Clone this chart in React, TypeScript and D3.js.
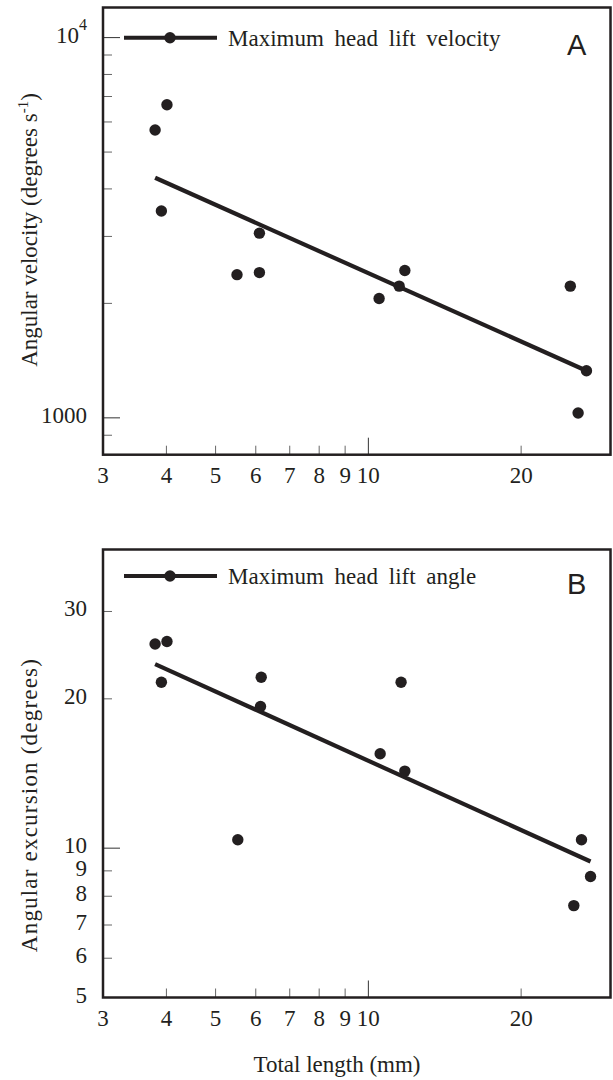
import React from "react";
import * as d3 from "d3";

// Panel A: maximum head lift velocity vs total length
const lengthA = [3.8, 4.01, 3.91, 5.51, 6.1, 6.1, 10.5, 11.5, 11.8, 25.0, 25.9, 26.9];
const velocityA = [5715, 6660, 3500, 2380, 3060, 2410, 2060, 2220, 2440, 2220, 1030, 1330];
const fitLengthA = [3.8, 26.9];
const fitVelocityA = [4280, 1330];

// Panel B: maximum head lift angle vs total length
const lengthB = [3.8, 4.01, 3.91, 5.53, 6.15, 6.13, 10.55, 11.6, 11.8, 25.4, 26.3, 27.4];
const angleB = [25.8, 26.1, 21.6, 10.4, 22.1, 19.3, 15.5, 21.6, 14.3, 7.66, 10.4, 8.77];
const fitLengthB = [3.8, 27.4];
const fitAngleB = [23.5, 9.4];

// ticks
const xTicks = [4, 5, 6, 7, 8, 9, 10, 20];
const xMajor = [10];
const xLabels = [3, 4, 5, 6, 7, 8, 9, 10, 20];
const yTicksA = [900, 1000, 2000, 3000, 4000, 5000, 6000, 7000, 8000, 9000, 10000];
const yMajorA = [1000, 10000];
const yTicksB = [6, 7, 8, 9, 10, 20, 30];
const yMajorB = [10];
const yLabelsB = [5, 6, 7, 8, 9, 10, 20, 30];

const ink = "#231f20";
const serif = "Liberation Serif, DejaVu Serif, Times, serif";
const sans = "Liberation Sans, Arial, sans-serif";
const fs = 23;

type PanelProps = {
	top: number;
	bottom: number;
	yDomain: [number, number];
	xs: number[];
	ys: number[];
	fitX: number[];
	fitY: number[];
	yTicks: number[];
	yMajor: number[];
	yLabels: React.ReactNode[];
	yLabelVals: number[];
	legend: string;
	letter: string;
	legendY: number;
	letterY: number;
};

const left = 103;
const right = 610.5;

function Panel(p: PanelProps) {
	const x = d3.scaleLog().domain([3, 30]).range([left, right]);
	const y = d3.scaleLog().domain(p.yDomain).range([p.bottom, p.top]);
	const line = d3
		.line<number>()
		.x((d, i) => x(p.fitX[i]))
		.y(d => y(d));

	return (
		<g>
			{/* y ticks */}
			{p.yTicks.map(t => (
				<line
					key={"yt" + t}
					x1={left}
					x2={left + (p.yMajor.includes(t) ? 17 : 9)}
					y1={y(t)}
					y2={y(t)}
					stroke={p.yMajor.includes(t) ? "#333" : "#666"}
					strokeWidth={1}
				/>
			))}
			{p.yLabelVals.map((v, i) => (
				<text
					key={"yl" + v}
					x={87}
					y={y(v) + 5}
					textAnchor="end"
					style={{ fontFamily: serif }}
					fontSize={fs}
					fill={ink}
				>
					{p.yLabels[i]}
				</text>
			))}
			{/* x ticks */}
			{xTicks.map(t => (
				<line
					key={"xt" + t}
					x1={x(t)}
					x2={x(t)}
					y1={p.bottom}
					y2={p.bottom - (xMajor.includes(t) ? 17 : 9)}
					stroke={xMajor.includes(t) ? "#333" : "#666"}
					strokeWidth={1}
				/>
			))}
			{xLabels.map(t => (
				<text
					key={"xl" + t}
					x={x(t)}
					y={p.bottom + 28}
					textAnchor="middle"
					style={{ fontFamily: serif }}
					fontSize={fs}
					fill={ink}
				>
					{t}
				</text>
			))}
			{/* fit line */}
			<path
				d={line(p.fitY) || ""}
				fill="none"
				stroke={ink}
				strokeWidth={4.2}
			/>
			{/* points */}
			{p.xs.map((v, i) => (
				<circle key={"pt" + i} cx={x(v)} cy={y(p.ys[i])} r={5.7} fill={ink} />
			))}
			{/* legend */}
			<line x1={124} x2={217} y1={p.legendY} y2={p.legendY} stroke={ink} strokeWidth={4} />
			<circle cx={170} cy={p.legendY} r={5.7} fill={ink} />
			<text
				x={228}
				y={p.legendY + 8}
				style={{ fontFamily: serif }}
				fontSize={fs}
				wordSpacing={5}
				fill={ink}
			>
				{p.legend}
			</text>
			<text x={567} y={p.letterY} style={{ fontFamily: sans }} fontSize={29} fill={ink}>
				{p.letter}
			</text>
			{/* frame */}
			<rect
				x={left}
				y={p.top}
				width={right - left}
				height={p.bottom - p.top}
				fill="none"
				stroke={ink}
				strokeWidth={2.5}
			/>
		</g>
	);
}

export default function App() {
	return (
		<svg
			width={613}
			height={1080}
			viewBox="0 0 613 1080"
			style={{ position: "absolute", left: 0, top: 0, background: "#fff" }}
		>
			<Panel
				top={7.5}
				bottom={454.7}
				yDomain={[800, 12000]}
				xs={lengthA}
				ys={velocityA}
				fitX={fitLengthA}
				fitY={fitVelocityA}
				yTicks={yTicksA}
				yMajor={yMajorA}
				yLabelVals={[1000, 10000]}
				yLabels={[
					"1000",
					<>
						10
						<tspan fontSize={16} dy={-13}>
							4
						</tspan>
					</>
				]}
				legend="Maximum head lift velocity"
				letter="A"
				legendY={37.7}
				letterY={55}
			/>
			<Panel
				top={549.5}
				bottom={997.5}
				yDomain={[5, 40]}
				xs={lengthB}
				ys={angleB}
				fitX={fitLengthB}
				fitY={fitAngleB}
				yTicks={yTicksB}
				yMajor={yMajorB}
				yLabelVals={yLabelsB}
				yLabels={yLabelsB.map(String)}
				legend="Maximum head lift angle"
				letter="B"
				legendY={576}
				letterY={594}
			/>
			{/* axis titles */}
			<text
				transform="translate(37,230) rotate(-90)"
				textAnchor="middle"
				style={{ fontFamily: serif }}
				fontSize={fs}
				fill={ink}
			>
				Angular velocity (degrees s
				<tspan fontSize={15} dy={-9}>
					-1
				</tspan>
				<tspan dy={9}>)</tspan>
			</text>
			<text
				transform="translate(37,805) rotate(-90)"
				textAnchor="middle"
				style={{ fontFamily: serif }}
				fontSize={fs}
				letterSpacing={1.2}
				fill={ink}
			>
				Angular excursion (degrees)
			</text>
			<text
				x={337}
				y={1072}
				textAnchor="middle"
				style={{ fontFamily: serif }}
				fontSize={fs}
				fill={ink}
			>
				Total length (mm)
			</text>
		</svg>
	);
}
